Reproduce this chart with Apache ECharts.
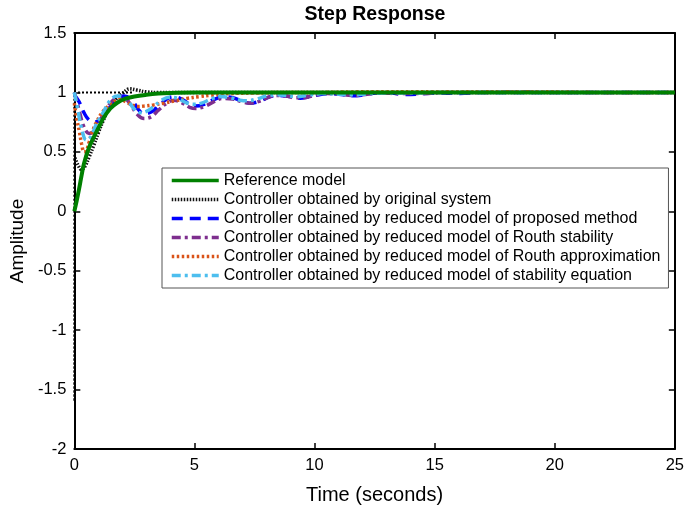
<!DOCTYPE html>
<html><head><meta charset="utf-8">
<script src="https://cdn.jsdelivr.net/npm/echarts@6/dist/echarts.min.js"></script>
<style>html,body{margin:0;padding:0;background:#fff}#c{width:687px;height:510px}</style>
</head><body><div id="c"></div>
<script>
// Reference model
const refT = [0,0.1,0.2,0.3,0.4,0.6,0.8,1.0,1.2,1.5,1.8,2.1,2.5,3,3.5,4,5,6,8,10,15,20,25];
const refV = [0,0.09,0.19,0.30,0.40,0.53,0.62,0.70,0.78,0.865,0.915,0.945,0.965,0.98,0.99,0.995,1,1,1,1,1,1,1];
// Controller obtained by original system
const origT = [0.03,0.15,0.3,0.45,0.62,0.8,1.0,1.2,1.45,1.8,2.0,2.3,2.6,3.0,3.5,4,5,10,15,20,25];
const origV = [0.45,0.39,0.35,0.38,0.46,0.55,0.66,0.76,0.865,0.96,0.99,1.03,1.02,1.005,1,1,1,1,1,1,1];
// initial part of original-system response (vertical drop at t=0, dotted level 1)
const origStartT = [2.4,0,0,0.03];
const origStartV = [1,1,-1.6,0.45];
// Controller obtained by reduced model of proposed method
const propT = [0,0.2,0.4,0.6,0.83,1.0,1.2,1.5,1.8,2.07,2.4,2.65,2.9,3.2,3.5,3.85,4.15,4.5,4.8,5.05,5.4,5.8,6.2,6.6,7.0,7.3,7.7,8.1,8.4,8.8,9.1,9.4,9.8,10.3,10.7,11.2,11.6,12.0,12.6,13.2,13.7,14.3,15,16,17,18,19,20,22,25];
const propV = [0.98,0.92,0.83,0.77,0.75,0.76,0.80,0.88,0.95,0.97,0.935,0.86,0.82,0.835,0.885,0.945,0.963,0.94,0.90,0.885,0.90,0.94,0.962,0.955,0.925,0.91,0.925,0.96,0.975,0.97,0.96,0.952,0.965,0.985,0.99,0.98,0.972,0.978,0.995,0.995,0.982,0.985,0.995,0.992,1,1,1,1,1,1];
// Controller obtained by reduced model of Routh stability
const rsT = [0,0.2,0.4,0.62,0.8,1.0,1.2,1.5,1.8,2.0,2.3,2.6,2.9,3.2,3.5,3.85,4.15,4.5,4.8,5.05,5.4,5.8,6.2,6.6,7.0,7.3,7.7,8.1,8.4,8.8,9.2,9.5,10,10.5,11,11.6,12.2,12.8,13.5,14.5,15.5,17,18.5,20,22,25];
const rsV = [1,0.85,0.71,0.655,0.67,0.73,0.81,0.91,0.96,0.965,0.91,0.82,0.78,0.795,0.85,0.91,0.935,0.91,0.875,0.865,0.88,0.92,0.95,0.945,0.92,0.91,0.925,0.96,0.975,0.97,0.955,0.955,0.975,0.99,0.985,0.975,0.985,0.995,0.99,0.99,1,1,1.005,1,1,1];
// Controller obtained by reduced model of Routh approximation
const raT = [0,0.1,0.21,0.3,0.41,0.5,0.62,0.75,0.9,1.17,1.45,1.7,1.9,2.2,2.45,2.65,2.9,3.3,3.73,4.2,4.7,5.2,5.7,6.5,7.5,9,10,12,15,18,20,22,25];
const raV = [0.91,0.78,0.67,0.57,0.50,0.51,0.585,0.67,0.74,0.835,0.89,0.925,0.94,0.915,0.89,0.882,0.885,0.895,0.91,0.93,0.95,0.965,0.977,0.99,0.995,1,1,1.005,1.005,1.005,1.005,1,1];
// Controller obtained by reduced model of stability equation
const seT = [0,0.15,0.3,0.5,0.7,0.9,1.17,1.5,1.8,2.0,2.3,2.5,2.75,3.0,3.3,3.6,3.95,4.3,4.65,4.95,5.3,5.7,6.1,6.5,6.9,7.2,7.6,8.0,8.4,8.8,9.2,9.7,10.3,11,11.6,12.3,13,14,15,17,20,25];
const seV = [1,0.85,0.70,0.60,0.63,0.725,0.82,0.935,0.97,0.965,0.91,0.86,0.83,0.84,0.88,0.93,0.96,0.95,0.915,0.90,0.91,0.945,0.965,0.955,0.935,0.93,0.945,0.97,0.98,0.975,0.965,0.975,0.99,0.985,0.98,0.99,0.995,0.995,1,1,1,1];

const xTicks = {min:0, max:25, interval:5};
const yTicks = {min:-2, max:1.5, interval:0.5};

const names = ['Reference model','Controller obtained by original system','Controller obtained by reduced model of proposed method','Controller obtained by reduced model of Routh stability','Controller obtained by reduced model of Routh approximation','Controller obtained by reduced model of stability equation'];

function pts(t,v){return t.map((x,i)=>[x,v[i]]);}

const chart = echarts.init(document.getElementById('c'), null, {renderer:'canvas'});
const font = 'Liberation Sans, Arial, Helvetica, sans-serif';
const axCommon = {
  axisLine:{show:true, onZero:false, lineStyle:{color:'#000', width:2}},
  axisTick:{show:true, inside:true, length:6, lineStyle:{color:'#000', width:1.5}},
  splitLine:{show:false}
};
chart.setOption({
  animation:false,
  textStyle:{fontFamily:font},
  grid:{left:73, right:10, top:33, bottom:61, containLabel:false},
  graphic:[{type:'text', x:375, y:5, style:{text:'Step Response', font:'bold 19.5px '+font, fill:'#000', textAlign:'center'}}],
  xAxis:[
    Object.assign({}, axCommon, {type:'value', position:'bottom', min:xTicks.min, max:xTicks.max, interval:xTicks.interval,
      name:'Time (seconds)', nameLocation:'middle', nameGap:36, nameTextStyle:{fontSize:20, color:'#000', fontFamily:font},
      axisLabel:{fontSize:16.5, color:'#000', margin:8, fontFamily:font}}),
    Object.assign({}, axCommon, {type:'value', position:'top', min:xTicks.min, max:xTicks.max, interval:xTicks.interval, axisLabel:{show:false}})
  ],
  yAxis:[
    Object.assign({}, axCommon, {type:'value', position:'left', min:yTicks.min, max:yTicks.max, interval:yTicks.interval,
      name:'Amplitude', nameLocation:'middle', nameGap:47, nameTextStyle:{fontSize:19, color:'#000', fontFamily:font},
      axisLabel:{fontSize:16.5, color:'#000', margin:8, fontFamily:font}}),
    Object.assign({}, axCommon, {type:'value', position:'right', min:yTicks.min, max:yTicks.max, interval:yTicks.interval, axisLabel:{show:false}})
  ],
  legend:{
    orient:'vertical', left:162, top:168, padding:[3,8,3,8],
    backgroundColor:'#fff', borderColor:'#555', borderWidth:1,
    itemWidth:47, itemHeight:19, itemGap:0,
    itemStyle:{opacity:0},
    lineStyle:{width:3.5},
    textStyle:{fontSize:16, color:'#000', fontFamily:font, lineHeight:19},
    data:names
  },
  series:[
    {name:names[1], type:'line', data:pts(origT,origV), smooth:0.4, symbol:'none', z:3,
      lineStyle:{color:'#111', width:3.5, type:[1.5,1.5]}, itemStyle:{color:'#000'}},
    {name:'origStart', type:'line', data:pts(origStartT,origStartV), smooth:false, symbol:'none', z:3,
      lineStyle:{color:'#000', width:2, type:[2,2]}, itemStyle:{color:'#000'}},
    {name:names[2], type:'line', data:pts(propT,propV), smooth:0.4, symbol:'none', z:4,
      lineStyle:{color:'#0000ff', width:3.5, type:[11,7]}, itemStyle:{color:'#0000ff'}},
    {name:names[3], type:'line', data:pts(rsT,rsV), smooth:0.4, symbol:'none', z:5,
      lineStyle:{color:'#7e2f8e', width:3.5, type:[9,4,3,4]}, itemStyle:{color:'#7e2f8e'}},
    {name:names[4], type:'line', data:pts(raT,raV), smooth:0.4, symbol:'none', z:6,
      lineStyle:{color:'#d95319', width:3.5, type:[2.5,2.5]}, itemStyle:{color:'#d95319'}},
    {name:names[5], type:'line', data:pts(seT,seV), smooth:0.4, symbol:'none', z:7,
      lineStyle:{color:'#4dbeee', width:3.5, type:[9,4,3,4]}, itemStyle:{color:'#4dbeee'}},
    {name:names[0], type:'line', data:pts(refT,refV), smooth:0.4, symbol:'none', z:8,
      lineStyle:{color:'#008000', width:4}, itemStyle:{color:'#008000'}}
  ]
});
</script></body></html>
